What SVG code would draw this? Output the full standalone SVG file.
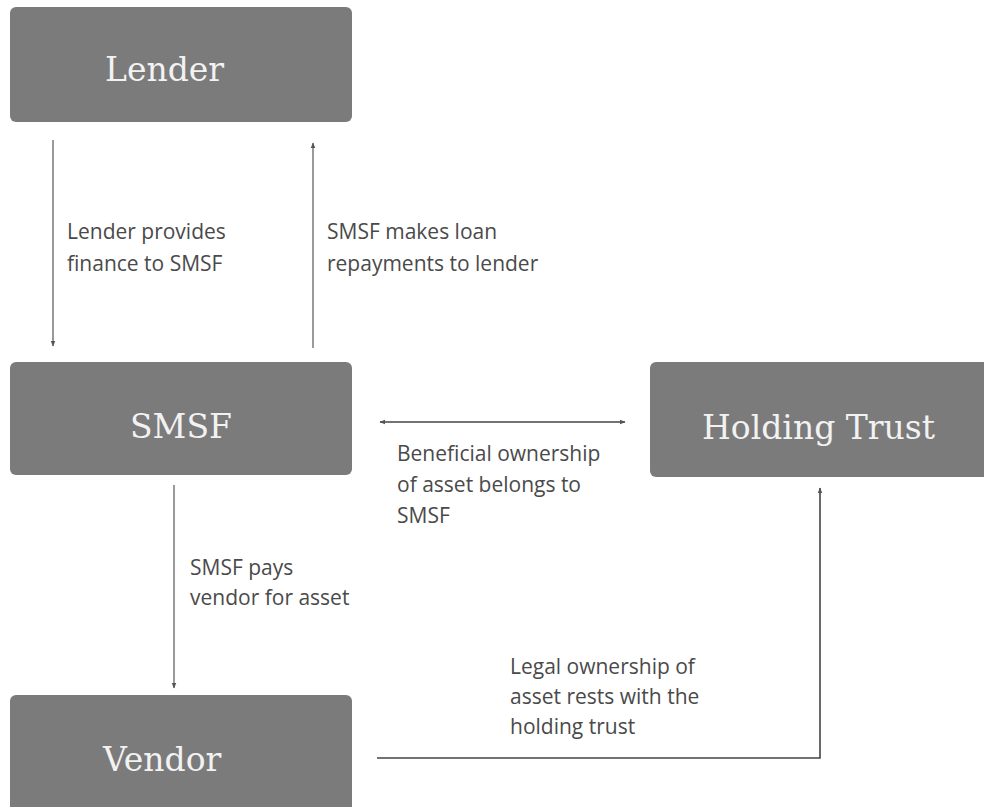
<svg xmlns="http://www.w3.org/2000/svg" width="984" height="807" viewBox="0 0 984 807">
<defs>
<style>
.box{fill:#7b7b7b;}
.nl{font-family:"DejaVu Serif",serif;font-size:33px;fill:#f2f2f2;}
.lb{font-family:"Open Sans","Noto Sans",sans-serif;font-size:21px;fill:#4a4a4a;}
.ln{stroke:#9a9a9a;stroke-width:2;fill:none;}
.dk{stroke:#444;stroke-width:1.6;fill:none;}
</style>
<marker id="ah" viewBox="0 0 10 10" refX="9" refY="5" markerWidth="6" markerHeight="6" orient="auto-start-reverse" markerUnits="userSpaceOnUse">
<path d="M0,1 L10,5 L0,9 z" fill="#555"/>
</marker>
</defs>
<g id="lender"><rect class="box" x="10" y="7" width="342" height="115" rx="6"/><text class="nl" x="105" y="81">Lender</text></g>
<g id="smsf"><rect class="box" x="10" y="362" width="342" height="113" rx="6"/><text class="nl" x="130" y="438">SMSF</text></g>
<g id="holding-trust"><rect class="box" x="650" y="362" width="340" height="115" rx="6"/><text class="nl" x="702" y="439">Holding Trust</text></g>
<g id="vendor"><rect class="box" x="10" y="695" width="342" height="120" rx="6"/><text class="nl" x="103" y="771">Vendor</text></g>
<g id="connectors">
<line class="ln" x1="53" y1="140" x2="53" y2="346" marker-end="url(#ah)"/>
<line class="ln" x1="313" y1="348" x2="313" y2="143" marker-end="url(#ah)"/>
<line class="dk" x1="380" y1="422" x2="625" y2="422" marker-start="url(#ah)" marker-end="url(#ah)"/>
<line class="ln" x1="174" y1="485" x2="174" y2="688" marker-end="url(#ah)"/>
<polyline class="dk" points="377,758 820,758 820,488" marker-end="url(#ah)"/>
<text class="lb" x="67" y="239">Lender provides</text>
<text class="lb" x="67" y="271">finance to SMSF</text>
<text class="lb" x="327" y="239">SMSF makes loan</text>
<text class="lb" x="327" y="271">repayments to lender</text>
<text class="lb" x="397" y="461">Beneficial ownership</text>
<text class="lb" x="397" y="492">of asset belongs to</text>
<text class="lb" x="397" y="523">SMSF</text>
<text class="lb" x="190" y="575">SMSF pays</text>
<text class="lb" x="190" y="605">vendor for asset</text>
<text class="lb" x="510" y="674">Legal ownership of</text>
<text class="lb" x="510" y="704">asset rests with the</text>
<text class="lb" x="510" y="734">holding trust</text>
</g>
</svg>
